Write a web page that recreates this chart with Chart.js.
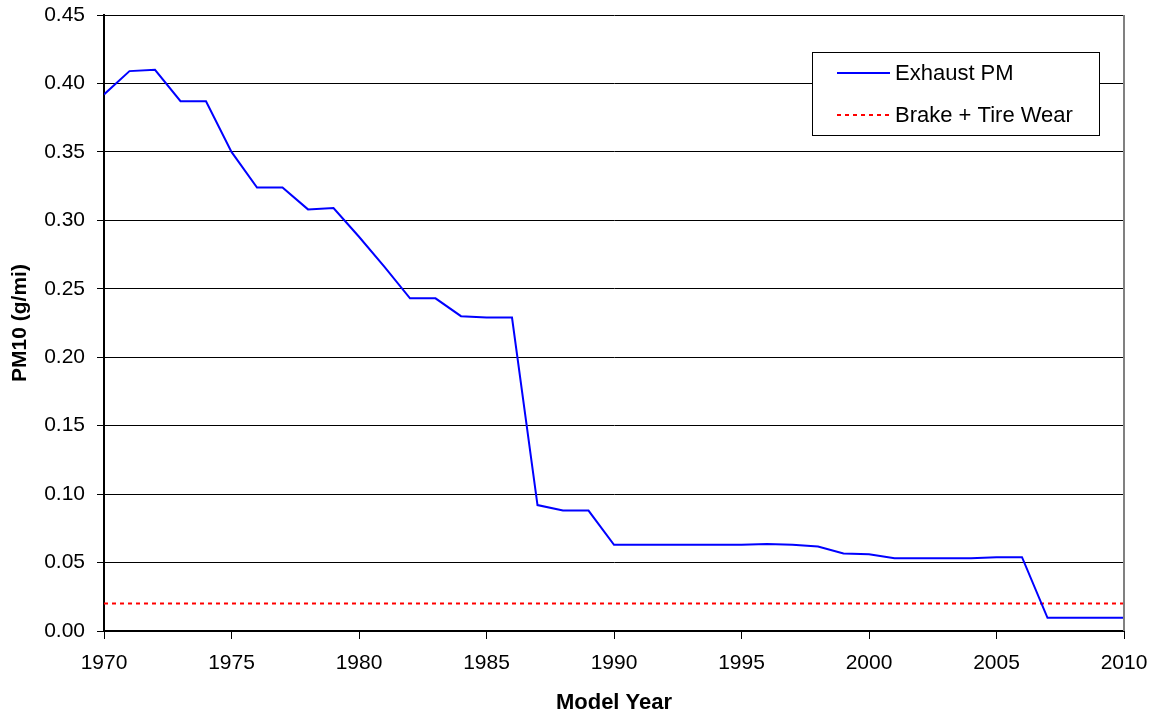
<!DOCTYPE html>
<html>
<head>
<meta charset="utf-8">
<script src="https://cdn.jsdelivr.net/npm/chart.js@4/dist/chart.umd.min.js"></script>
<style>
  html, body { margin: 0; padding: 0; background: #fff; }
  #wrap { width: 1156px; height: 716px; }
</style>
</head>
<body>
<div id="wrap"><canvas id="pmChart" width="1156" height="716"></canvas></div>
<script>
const years = [1970, 1971, 1972, 1973, 1974, 1975, 1976, 1977, 1978, 1979,
  1980, 1981, 1982, 1983, 1984, 1985, 1986, 1987, 1988, 1989,
  1990, 1991, 1992, 1993, 1994, 1995, 1996, 1997, 1998, 1999,
  2000, 2001, 2002, 2003, 2004, 2005, 2006, 2007, 2008, 2009, 2010];
const exhaustPM = [0.392, 0.409, 0.410, 0.387, 0.387, 0.350, 0.324, 0.324, 0.308, 0.309,
  0.288, 0.266, 0.243, 0.243, 0.230, 0.229, 0.229, 0.092, 0.088, 0.088,
  0.063, 0.063, 0.063, 0.063, 0.063, 0.063, 0.0635, 0.063, 0.0617, 0.0566,
  0.056, 0.0532, 0.0532, 0.0532, 0.0532, 0.0539, 0.0539, 0.0096, 0.0096, 0.0096, 0.0096];
const brakeTire = [0.020, 0.020, 0.020, 0.020, 0.020, 0.020, 0.020, 0.020, 0.020, 0.020,
  0.020, 0.020, 0.020, 0.020, 0.020, 0.020, 0.020, 0.020, 0.020, 0.020,
  0.020, 0.020, 0.020, 0.020, 0.020, 0.020, 0.020, 0.020, 0.020, 0.020,
  0.020, 0.020, 0.020, 0.020, 0.020, 0.020, 0.020, 0.020, 0.020, 0.020, 0.020];

const FONT = "'Liberation Sans', Arial, sans-serif";

function toPoints(vals) {
  return years.map((y, i) => ({ x: y, y: vals[i] }));
}

// right frame edge + boxed legend inside plot area
const framePlugin = {
  id: "frame",
  afterDraw(chart) {
    const { ctx, chartArea: a } = chart;
    ctx.save();
    ctx.strokeStyle = "#808080";
    ctx.lineWidth = 2;
    ctx.beginPath();
    ctx.moveTo(a.right, a.top);
    ctx.lineTo(a.right, a.bottom);
    ctx.stroke();

    const bx = 812, by = 52, bw = 287, bh = 83;
    ctx.fillStyle = "#fff";
    ctx.fillRect(bx, by, bw, bh);
    ctx.strokeStyle = "#000";
    ctx.lineWidth = 1;
    ctx.strokeRect(bx + 0.5, by + 0.5, bw, bh);

    ctx.font = "22px " + FONT;
    ctx.textBaseline = "middle";
    chart.data.datasets.forEach((ds, i) => {
      const ly = by + 21 + i * 42;
      ctx.strokeStyle = ds.borderColor;
      ctx.lineWidth = ds.borderWidth;
      ctx.setLineDash(ds.borderDash || []);
      ctx.beginPath();
      ctx.moveTo(837, ly);
      ctx.lineTo(890, ly);
      ctx.stroke();
      ctx.setLineDash([]);
      ctx.fillStyle = "#000";
      ctx.fillText(ds.label, 895, ly + 1);
    });
    ctx.restore();
  }
};

new Chart(document.getElementById("pmChart"), {
  type: "line",
  data: {
    datasets: [{
      label: "Exhaust PM",
      data: toPoints(exhaustPM),
      borderColor: "#0000ff",
      borderWidth: 2,
      pointRadius: 0,
      tension: 0
    }, {
      label: "Brake + Tire Wear",
      data: toPoints(brakeTire),
      borderColor: "#ff0000",
      borderWidth: 2,
      borderDash: [4, 4],
      pointRadius: 0,
      tension: 0
    }]
  },
  options: {
    responsive: false,
    animation: false,
    layout: { padding: { left: 0, right: 32, top: 15, bottom: 0 } },
    plugins: {
      legend: { display: false },
      tooltip: { enabled: false }
    },
    scales: {
      x: {
        type: "linear",
        min: 1970,
        max: 2010,
        afterFit(scale) {
          scale.height = 85;
          scale.paddingLeft = 0;
          scale.paddingRight = 0;
        },
        ticks: {
          stepSize: 5,
          color: "#000",
          padding: 12,
          font: { family: FONT, size: 21 },
          callback: v => String(v)
        },
        grid: { drawOnChartArea: false, drawTicks: true, tickLength: 8, color: "#000" },
        border: { color: "#000", width: 2 },
        title: {
          display: true,
          text: "Model Year",
          color: "#000",
          font: { family: FONT, size: 22, weight: "bold" },
          padding: { top: 4, bottom: 0 }
        }
      },
      y: {
        min: 0,
        max: 0.45,
        afterFit(scale) {
          scale.width = 104;
          scale.paddingTop = 0;
          scale.paddingBottom = 0;
        },
        ticks: {
          stepSize: 0.05,
          color: "#000",
          padding: 12,
          font: { family: FONT, size: 21 },
          callback: v => v.toFixed(2)
        },
        grid: { color: "#000", lineWidth: 1, tickLength: 7 },
        border: { color: "#000", width: 2 },
        title: {
          display: true,
          text: "PM10 (g/mi)",
          color: "#000",
          font: { family: FONT, size: 21, weight: "bold" },
          padding: { top: 8, bottom: 0 }
        }
      }
    }
  },
  plugins: [framePlugin]
});
</script>
</body>
</html>
